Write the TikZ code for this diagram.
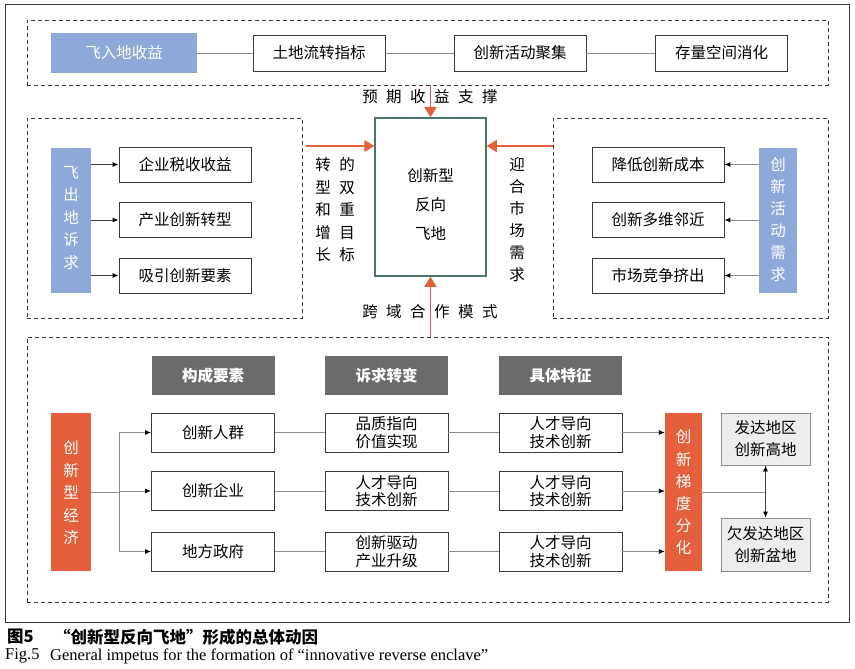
\documentclass[tikz,border=0pt]{standalone}
\usepackage{fontspec}
\setmainfont{Liberation Serif}
\newfontfamily\cjk{Noto Sans CJK SC}
\usetikzlibrary{arrows.meta}
\definecolor{blu}{HTML}{8EA8D9}
\definecolor{org}{HTML}{E4603C}
\definecolor{hdr}{HTML}{6A6B6D}
\definecolor{teal}{HTML}{4A7769}
\definecolor{lgray}{HTML}{EDEDED}
\definecolor{ln}{HTML}{3A3A3A}
\definecolor{conn}{HTML}{8C8C8C}
\tikzset{
  txt/.style={font=\cjk\fontsize{15.5}{18}\selectfont, inner sep=0pt, align=center},
  wbox/.style={txt, draw=ln, line width=0.8pt, fill=white, minimum width=132pt, minimum height=35pt},
  cbox/.style={txt, draw=ln, line width=0.8pt, fill=white, minimum width=123pt, minimum height=39pt},
  hbox/.style={txt, fill=hdr, text=white, minimum width=123pt, minimum height=39pt},
  bbox/.style={txt, fill=blu, text=white},
  obox/.style={txt, fill=org, text=white},
  gbox/.style={txt, draw=conn, line width=0.8pt, fill=lgray, minimum width=89pt, font=\cjk\fontsize{15.5}{22}\selectfont},
  vtxt/.style={txt, font=\cjk\fontsize{15.5}{22.5}\selectfont},
  dbox/.style={draw=ln, line width=0.8pt, dash pattern=on 4pt off 3pt, inner sep=0pt},
  conline/.style={draw=conn, line width=0.9pt},
  sarrow/.style={draw=conn, line width=0.9pt, -{Latex[length=6pt,width=5pt,color=black]}},
  oarrow/.style={draw=org, line width=1.6pt, -{Triangle[length=10pt,width=12pt]}},
  twoline/.style={font=\cjk\fontsize{15.5}{17.5}\selectfont},
}
\newcommand{\cgap}{\hspace{8.5pt}}
\begin{document}
\begin{tikzpicture}[x=1pt,y=-1pt]
\useasboundingbox (0,0) rectangle (855,669);
\fill[white] (0,0) rectangle (855,669);
% outer frame
\draw[ln, line width=0.9pt] (5,4) rectangle (849,622);

% dashed group boxes
\node[dbox, minimum width=801pt, minimum height=65pt] (topbox) at (427.5,52.5) {};
\node[dbox, minimum width=275pt, minimum height=200pt] (lbox) at (164.5,218) {};
\node[dbox, minimum width=275pt, minimum height=200pt] (rbox) at (690.5,218) {};
\node[dbox, minimum width=801pt, minimum height=265pt] (bbox) at (427.5,469.5) {};

% top row
\node[bbox, minimum width=146pt, minimum height=40pt] (fr) at (124,53) {飞入地收益};
\node[wbox, minimum height=36pt] (t1) at (319,53) {土地流转指标};
\node[wbox, minimum height=36pt] (t2) at (520,53) {创新活动聚集};
\node[wbox, minimum height=36pt] (t3) at (721.5,53) {存量空间消化};
\draw[conline] (fr) -- (t1);
\draw[conline] (t1) -- (t2);
\draw[conline] (t2) -- (t3);

% center
\node[draw=teal, line width=1.5pt, fill=white, minimum width=111pt, minimum height=158pt, inner sep=0pt] (c) at (430.5,197) {};
\node[txt, font=\cjk\fontsize{15.5}{29}\selectfont] (ct) at (430.5,204) {创新型\\反向\\飞地};

% left group
\node[bbox, minimum width=40pt, minimum height=145pt] (fc) at (71,220.5) {};
\node[vtxt, text=white] (fct) at (71,218) {飞\\出\\地\\诉\\求};
\node[wbox] (l1) at (185,164.5) {企业税收收益};
\node[wbox] (l2) at (185,220) {产业创新转型};
\node[wbox] (l3) at (185,275.5) {吸引创新要素};
\draw[sarrow, draw=ln] (fc.east |- l1) -- (l1);
\draw[sarrow, draw=ln] (fc.east |- l2) -- (l2);
\draw[sarrow, draw=ln] (fc.east |- l3) -- (l3);

% right group
\node[bbox, minimum width=38pt, minimum height=145pt] (xq) at (778,220.5) {};
\node[vtxt, text=white, font=\cjk\fontsize{15.5}{22}\selectfont] (xqt) at (778,220) {创\\新\\活\\动\\需\\求};
\node[wbox] (r1) at (658,164.5) {降低创新成本};
\node[wbox] (r2) at (658,220) {创新多维邻近};
\node[wbox] (r3) at (658,275.5) {市场竞争挤出};
\draw[sarrow] (xq.west |- r1) -- (r1);
\draw[sarrow] (xq.west |- r2) -- (r2);
\draw[sarrow] (xq.west |- r3) -- (r3);

% orange arrows
\coordinate (ya) at (0,146);
\draw[oarrow] (topbox.south -| c.north) -- (c.north);
\draw[oarrow] ([xshift=4pt]lbox.east |- ya) -- (c.west |- ya);
\draw[oarrow] (rbox.west |- ya) -- (c.east |- ya);
\draw[oarrow] (bbox.north -| c.south) -- (c.south);

% arrow labels
\node[txt] (lab1) at (430,97) {预\cgap 期\cgap 收\cgap 益\cgap 支\cgap 撑};
\node[txt] (lab2) at (430,312) {跨\cgap 域\cgap 合\cgap 作\cgap 模\cgap 式};
\node[vtxt] (lab3) at (323,210) {转\\型\\和\\增\\长};
\node[vtxt] (lab4) at (347,210) {的\\双\\重\\目\\标};
\node[vtxt, font=\cjk\fontsize{15.5}{22}\selectfont] (lab5) at (517,220) {迎\\合\\市\\场\\需\\求};

% bottom headers
\node[hbox, font=\cjk\bfseries\fontsize{15.5}{18}\selectfont] (h1) at (213,375.5) {构成要素};
\node[hbox, font=\cjk\bfseries\fontsize{15.5}{18}\selectfont] (h2) at (386.5,375.5) {诉求转变};
\node[hbox, font=\cjk\bfseries\fontsize{15.5}{18}\selectfont] (h3) at (560.5,375.5) {具体特征};

% economy box
\node[obox, minimum width=40pt, minimum height=158pt] (ec) at (71,492) {};
\node[vtxt, text=white] (ect) at (71,493) {创\\新\\型\\经\\济};

% rows
\node[cbox] (a1) at (213,432.5) {创新人群};
\node[cbox] (a2) at (213,491) {创新企业};
\node[cbox] (a3) at (213,551.5) {地方政府};
\node[cbox, twoline] (b1) at (386.5,432.5) {品质指向\\价值实现};
\node[cbox, twoline] (b2) at (386.5,491) {人才导向\\技术创新};
\node[cbox, twoline] (b3) at (386.5,551.5) {创新驱动\\产业升级};
\node[cbox, twoline] (d1) at (560.5,432.5) {人才导向\\技术创新};
\node[cbox, twoline] (d2) at (560.5,491) {人才导向\\技术创新};
\node[cbox, twoline] (d3) at (560.5,551.5) {人才导向\\技术创新};

% fan-out from economy
\coordinate (fx) at (119,492);
\draw[conline] (ec.east |- fx) -- (fx);
\draw[conline] (fx |- a1) -- (fx |- a3);
\draw[sarrow] (fx |- a1) -- (a1);
\draw[sarrow] (fx |- a2) -- (a2);
\draw[sarrow] (fx |- a3) -- (a3);

\draw[conline] (a1) -- (b1);
\draw[conline] (a2) -- (b2);
\draw[conline] (a3) -- (b3);
\draw[conline] (b1) -- (d1);
\draw[conline] (b2) -- (d2);
\draw[conline] (b3) -- (d3);

% gradient box
\node[obox, minimum width=37pt, minimum height=158pt] (gr) at (683.5,492) {};
\node[vtxt, text=white, font=\cjk\fontsize{15.5}{22.2}\selectfont] (grt) at (683.5,492.5) {创\\新\\梯\\度\\分\\化};
\draw[sarrow] (d1.east) -- (gr.west |- d1);
\draw[sarrow] (d2.east) -- (gr.west |- d2);
\draw[sarrow] (d3.east) -- (gr.west |- d3);

% regions
\node[gbox, minimum height=52pt] (g1) at (765.5,439) {发达地区\\创新高地};
\node[gbox, minimum height=53pt] (g2) at (765.5,544.5) {欠发达地区\\创新盆地};
\draw[conline] (gr.east |- gr) -- (g1.south |- gr);
\draw[draw=ln, line width=0.8pt, {Latex[length=6pt,width=5pt,color=black]}-{Latex[length=6pt,width=5pt,color=black]}] (g1.south) -- (g2.north);

% caption
\node[anchor=west, inner sep=0pt, font=\cjk\bfseries\fontsize{16.5}{18}\selectfont] (cap1) at (7,637) {图5};
\node[anchor=west, inner sep=0pt, font=\cjk\bfseries\fontsize{16.5}{18}\selectfont] (cap1b) at (54,637) {“创新型反向飞地”形成的总体动因};
\node[anchor=west, inner sep=0pt, font=\fontsize{16.5}{18}\selectfont] (cap2) at (5,656) {Fig.5};
\node[anchor=west, inner sep=0pt, font=\fontsize{16.5}{18}\selectfont] (cap2b) at (50,656) {General impetus for the formation of “innovative reverse enclave”};
\end{tikzpicture}
\end{document}
